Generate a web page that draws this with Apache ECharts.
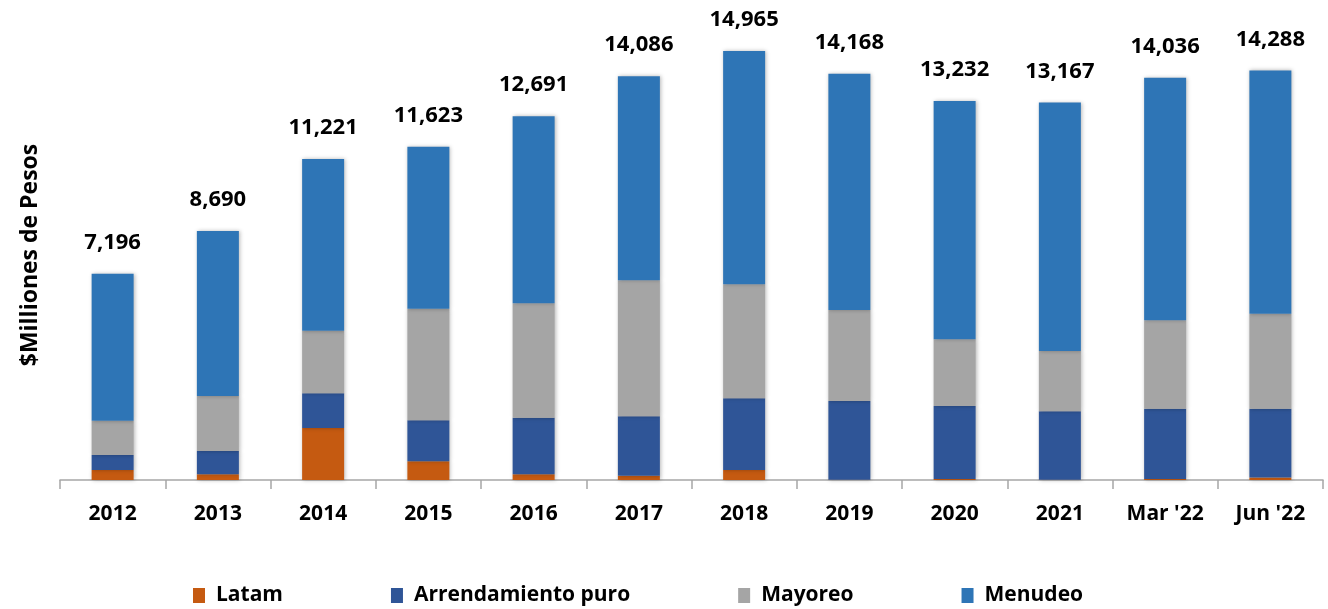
<!DOCTYPE html>
<html>
<head>
<meta charset="utf-8">
<script src="https://cdn.jsdelivr.net/npm/echarts@6/dist/echarts.min.js"></script>
<style>
  html, body { margin: 0; padding: 0; background: #fff; }
  #chart { width: 1328px; height: 609px; }
</style>
</head>
<body>
<div id="chart"></div>
<script>
const categories = ["2012", "2013", "2014", "2015", "2016", "2017", "2018", "2019", "2020", "2021", "Mar '22", "Jun '22"];
const latam = [349, 199, 1814, 652, 199, 150, 349, 10, 35, 10, 35, 90];
const arrendamiento = [523, 813, 1210, 1430, 1974, 2072, 2501, 2746, 2546, 2386, 2452, 2397];
const mayoreo = [1196, 1918, 2184, 3893, 3990, 4744, 3976, 3174, 2326, 2103, 3083, 3314];
const menudeo = [5128, 5760, 5989, 5648, 6528, 7120, 8139, 8238, 8314, 8667, 8466, 8487];
const totals = [7196, 8690, 11221, 11623, 12691, 14086, 14965, 14168, 13232, 13167, 14036, 14288];

const font = "'Open Sans', 'DejaVu Sans', sans-serif";
const chart = echarts.init(document.getElementById("chart"));

const barShadow = {
  shadowBlur: 4,
  shadowColor: "rgba(0,0,0,0.28)",
  shadowOffsetX: 1,
  shadowOffsetY: 0
};

function bar(name, data, color, extra) {
  return Object.assign({
    name: name,
    type: "bar",
    stack: "total",
    barWidth: 42,
    data: data,
    itemStyle: Object.assign({ color: color }, barShadow)
  }, extra || {});
}

const option = {
  animation: false,
  textStyle: { fontFamily: font },
  grid: { left: 60, right: 5, top: 50, bottom: 129 },
  legend: {
    bottom: -2,
    left: 188,
    itemGap: 108,
    itemWidth: 12,
    itemHeight: 15,
    icon: "rect",
    textStyle: { fontSize: 21, fontWeight: "bold", color: "#000", fontFamily: font, padding: [0, 0, 0, 6] },
    data: ["Latam", "Arrendamiento puro", "Mayoreo", "Menudeo"]
  },
  xAxis: {
    type: "category",
    data: categories,
    axisLine: { lineStyle: { color: "#A6A6A6", width: 1.5 } },
    axisTick: { show: true, length: 9, lineStyle: { color: "#A6A6A6", width: 1.5 } },
    axisLabel: { fontSize: 21, fontWeight: "bold", color: "#000", margin: 24, fontFamily: font }
  },
  yAxis: {
    type: "value",
    min: 0,
    max: 15000,
    name: "$Milliones de Pesos",
    nameLocation: "middle",
    nameGap: 18,
    nameRotate: 90,
    nameTextStyle: { fontSize: 23, fontWeight: "bold", color: "#000", fontFamily: font, padding: [0, 0, 0, 20] },
    axisLine: { show: false },
    axisTick: { show: false },
    axisLabel: { show: false },
    splitLine: { show: false }
  },
  series: [
    bar("Latam", latam, "#C55A11"),
    bar("Arrendamiento puro", arrendamiento, "#2F5597"),
    bar("Mayoreo", mayoreo, "#A5A5A5"),
    bar("Menudeo", menudeo, "#2E75B6", {
      label: {
        show: true,
        position: "top",
        distance: 20,
        fontSize: 22,
        fontWeight: "bold",
        color: "#000",
        fontFamily: font,
        formatter: p => totals[p.dataIndex].toLocaleString("en-US")
      }
    })
  ]
};

chart.setOption(option);
</script>
</body>
</html>
